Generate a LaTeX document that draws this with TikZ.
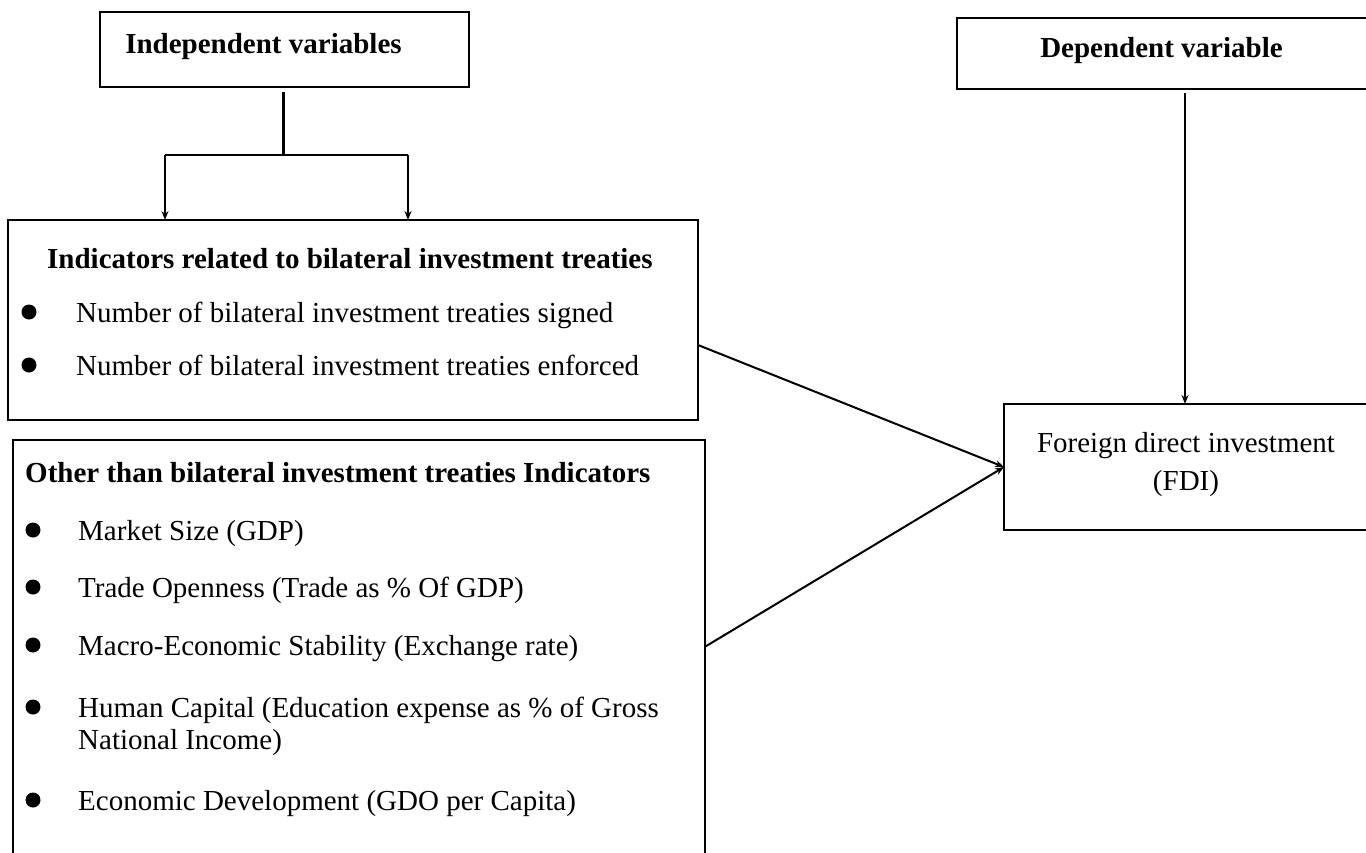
\documentclass[tikz,border=0pt]{standalone}
\usepackage{fontspec}
\setmainfont{Liberation Serif}
\usetikzlibrary{arrows.meta}
\tikzset{
  box/.style={draw, line width=1.8pt, rectangle, anchor=north west, inner sep=0pt, outer sep=0pt},
  txt/.style={anchor=base west, inner sep=0pt, font=\fontsize{29}{33}\selectfont},
  ttl/.style={txt, font=\fontsize{29}{33}\selectfont\bfseries},
  dot/.style={circle, fill, inner sep=0pt, minimum size=15pt},
  conn/.style={line width=2pt},
  arr/.style={conn, -{Stealth[length=9pt,width=7pt]}},
}
\begin{document}
\begin{tikzpicture}[x=1pt,y=-1pt]
\useasboundingbox (0,0) rectangle (1366,852);
\clip (0,0) rectangle (1366,852);

% boxes
\node[box, minimum width=369pt, minimum height=75pt] (indep) at (100,12) {};
\node[box, minimum width=690pt, minimum height=200pt] (bit) at (8,220) {};
\node[box, minimum width=692pt, minimum height=460pt] (other) at (12.6,440) {};
\node[box, minimum width=450pt, minimum height=71pt] (dep) at (957,18) {};
\node[box, minimum width=420pt, minimum height=126pt] (fdi) at (1004,404) {};

% texts
\node[ttl, anchor=base] (indept) at (263.5,53) {Independent variables};
\node[ttl, anchor=base] (dept) at (1161.5,57) {Dependent variable};

\node[ttl] (bitt) at (47,268) {Indicators related to bilateral investment treaties};
\node[dot] (b1) at (29,312) {};
\node[txt] (b1t) at (76,322) {Number of bilateral investment treaties signed};
\node[dot] (b2) at (29,365) {};
\node[txt] (b2t) at (76,375) {Number of bilateral investment treaties enforced};

\node[ttl] (othert) at (25,482) {Other than bilateral investment treaties Indicators};
\node[dot] (o1) at (33,530) {};
\node[txt] (o1t) at (78,540) {Market Size (GDP)};
\node[dot] (o2) at (33,587) {};
\node[txt] (o2t) at (78,597) {Trade Openness (Trade as \% Of GDP)};
\node[dot] (o3) at (33,645) {};
\node[txt] (o3t) at (78,655) {Macro-Economic Stability (Exchange rate)};
\node[dot] (o4) at (33,707) {};
\node[txt] (o4t) at (78,717) {Human Capital (Education expense as \% of Gross};
\node[txt] (o4u) at (78,749) {National Income)};
\node[dot] (o5) at (33,800) {};
\node[txt] (o5t) at (78,810) {Economic Development (GDO per Capita)};

\node[txt, anchor=base] (fdit1) at (1186,452) {Foreign direct investment};
\node[txt, anchor=base] (fdit2) at (1186,490) {(FDI)};

% connectors
\coordinate (split) at (283,155);
\coordinate (bl) at (165,155);
\coordinate (br) at (408,155);
\draw[line width=3pt, shorten <=5pt] (indep.south -| split) -- (split);
\draw[conn] (bl) -- (br);
\draw[arr] (bl) -- (bl |- bit.north);
\draw[arr] (br) -- (br |- bit.north);

\coordinate (dv) at (1185,0);
\draw[arr, shorten <=4pt] (dep.south -| dv) -- (fdi.north -| dv);

\coordinate (s1) at (0,345);
\coordinate (s2) at (0,647);
\draw[arr] (bit.east |- s1) -- (fdi.west);
\draw[arr] (other.east |- s2) -- (fdi.west);
\end{tikzpicture}
\end{document}
